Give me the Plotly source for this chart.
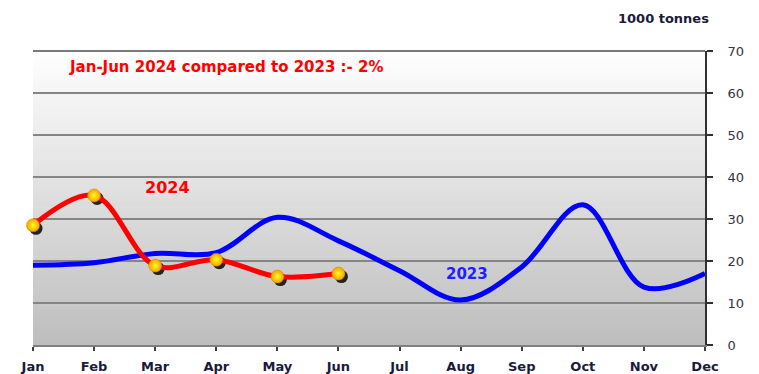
import plotly.graph_objects as go

months = ["Jan", "Feb", "Mar", "Apr", "May", "Jun", "Jul", "Aug", "Sep", "Oct", "Nov", "Dec"]
vol_2023 = [19.0, 19.6, 21.8, 22.0, 30.4, 24.8, 17.7, 10.7, 18.6, 33.4, 13.8, 17.0]
vol_2024 = [28.5, 35.6, 18.9, 20.3, 16.3, 17.0]
y_ticks = [0, 10, 20, 30, 40, 50, 60, 70]

W, H = 759, 374
M_L, M_R, M_T, M_B = 33, 54, 51, 29
plot_w = W - M_L - M_R
plot_h = H - M_T - M_B

x_pos = list(range(len(months)))
x_2024 = x_pos[:len(vol_2024)]
x_range = [0, len(months) - 1]
y_range = [0, 70]

# shadow axes: same domain, range nudged so marks land a few pixels right/down
shift_px = 3
dx = shift_px / plot_w * (x_range[1] - x_range[0])
dy = shift_px / plot_h * (y_range[1] - y_range[0])

fig = go.Figure()

# vertical gradient behind the plot area (white at top to grey at bottom)
n_bands = 60
top_c, bot_c = (254, 254, 254), (190, 190, 190)
shapes = []
for i in range(n_bands):
    t = i / (n_bands - 1)
    c = tuple(round(top_c[k] + (bot_c[k] - top_c[k]) * t) for k in range(3))
    y1 = 1 - i / n_bands
    y0 = 1 - (i + 1) / n_bands
    shapes.append(dict(type="rect", xref="x domain", yref="y domain",
                       x0=0, x1=1, y0=y0, y1=y1 + 0.002, layer="below",
                       line=dict(width=0), fillcolor="rgb(%d,%d,%d)" % c))
# top grid line at the 70 mark
shapes.append(dict(type="line", xref="x domain", yref="y domain",
                   x0=0, x1=1, y0=1, y1=1, layer="below",
                   line=dict(color="#7a7a7a", width=2)))

# 2023 line on the base axes
fig.add_trace(go.Scatter(
    x=x_pos, y=vol_2023, mode="lines",
    line=dict(color="#0000ff", width=5, shape="spline", smoothing=1.0),
    hoverinfo="skip", showlegend=False))

# marker drop shadows on offset axes
fig.add_trace(go.Scatter(
    x=x_2024, y=vol_2024, mode="markers", cliponaxis=False,
    marker=dict(size=13, color="rgba(15,15,15,0.9)", line=dict(width=0)),
    xaxis="x2", yaxis="y2", hoverinfo="skip", showlegend=False))

# 2024 line and markers on an unshifted overlay so they sit above the shadows
fig.add_trace(go.Scatter(
    x=x_2024, y=vol_2024, mode="lines",
    line=dict(color="#ff0000", width=5, shape="spline", smoothing=1.0),
    xaxis="x3", yaxis="y3", hoverinfo="skip", showlegend=False))

fig.add_trace(go.Scatter(
    x=x_2024, y=vol_2024, mode="markers", cliponaxis=False,
    marker=dict(size=13, color="#f5a000",
                gradient=dict(type="radial", color="#ffff20"),
                line=dict(width=0.5, color="#e08000")),
    xaxis="x3", yaxis="y3", hoverinfo="skip", showlegend=False))

fig.add_annotation(x=0.05, y=0.945, xref="x domain", yref="y domain",
                   text="<b>Jan-Jun 2024 compared to 2023 :- 2%</b>", showarrow=False,
                   xanchor="left", yanchor="middle",
                   font=dict(family="DejaVu Sans", size=15, color="#ff0000"))
fig.add_annotation(x=2.2, y=37.5, text="<b>2024</b>", showarrow=False,
                   xanchor="center", yanchor="middle",
                   font=dict(family="DejaVu Sans", size=16, color="#ff0000"))
fig.add_annotation(x=7.1, y=17.0, text="<b>2023</b>", showarrow=False,
                   xanchor="center", yanchor="middle",
                   font=dict(family="DejaVu Sans", size=15, color="#2020ff"))
fig.add_annotation(x=1.0, y=1.0, xref="paper", yref="paper",
                   text="<b>1000 tonnes</b>", showarrow=False,
                   xanchor="right", yanchor="top", xshift=6, yshift=42,
                   font=dict(family="DejaVu Sans", size=13, color="#1a1a3a"))

fig.update_layout(
    width=W, height=H,
    margin=dict(l=M_L, r=M_R, t=M_T, b=M_B, autoexpand=False),
    paper_bgcolor="white", plot_bgcolor="rgba(0,0,0,0)",
    shapes=shapes,
    xaxis=dict(range=x_range, tickmode="array", tickvals=x_pos, ticktext=months,
               showgrid=False, zeroline=False, showline=True,
               linecolor="#7f7f7f", linewidth=2, automargin=False,
               ticks="outside", ticklen=4, tickwidth=2, tickcolor="#404040",
               ticklabelstandoff=4,
               tickfont=dict(family="DejaVu Sans", size=13, color="#1a1a3a", weight="bold"),
               fixedrange=True),
    yaxis=dict(range=y_range, side="right", tickmode="array", tickvals=y_ticks,
               showgrid=True, gridcolor="#858585", gridwidth=1.5,
               zeroline=False, showline=True, linecolor="#303030", linewidth=2,
               ticks="outside", ticklen=6, tickwidth=2, tickcolor="#303030",
               tickfont=dict(family="DejaVu Sans", size=13, color="#333344"),
               ticklabelstandoff=12, automargin=False, fixedrange=True),
    xaxis2=dict(range=[x_range[0] - dx, x_range[1] - dx], overlaying="x",
                visible=False, fixedrange=True),
    yaxis2=dict(range=[y_range[0] + dy, y_range[1] + dy], overlaying="y",
                visible=False, fixedrange=True),
    xaxis3=dict(range=x_range, overlaying="x", visible=False, fixedrange=True),
    yaxis3=dict(range=y_range, overlaying="y", visible=False, fixedrange=True),
)

fig.write_html("out.html")
